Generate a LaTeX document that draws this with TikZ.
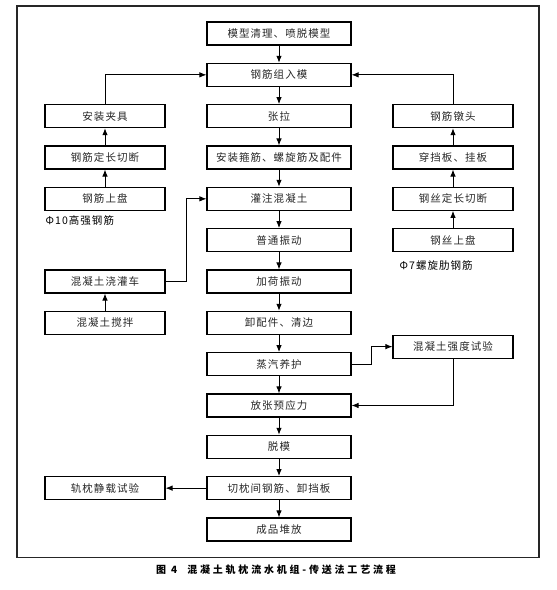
\documentclass[tikz,border=0pt]{standalone}
\usepackage{fontspec}
\setmainfont{Noto Sans CJK SC}[LetterSpace=10]
\newfontfamily\capfont{Noto Sans CJK SC}[LetterSpace=28]
\usetikzlibrary{shapes,arrows,arrows.meta,calc}
\tikzstyle{line} = [draw, -{Latex[length=7pt,width=5.5pt]}, line width=0.9pt]
\tikzstyle{block} = [draw, rectangle, line width=1.1pt, text centered, minimum height=23pt, minimum width=144pt, inner sep=0pt, text=black!85, font=\fontsize{10.5}{12}\selectfont]
\tikzstyle{side} = [block, minimum width=120pt]
\tikzstyle{note} = [anchor=west, inner sep=0pt, font=\fontsize{10.5}{12}\selectfont]
\tikzstyle{capnode} = [inner sep=0pt, font=\capfont\bfseries\fontsize{10}{12}\selectfont]

\begin{document}
\begin{tikzpicture}[node distance=41.33pt, auto]
        \useasboundingbox (0,0) rectangle (557pt,-590pt);
        \draw[line width=1.3pt, black!85] (17pt,-6pt) rectangle (539pt,-557.5pt);
        % main line
        \node[block] (clean) at (279pt,-33.5pt) {模型清理、喷脱模型};
        \node[block, below of=clean] (insert) {钢筋组入模};
        \node[block, below of=insert] (tension) {张拉};
        \node[block, below of=tension] (fit) {安装箍筋、螺旋筋及配件};
        \node[block, below of=fit] (pour) {灌注混凝土};
        \node[block, below of=pour] (vibrate) {普通振动};
        \node[block, below of=vibrate] (loadvib) {加荷振动};
        \node[block, below of=loadvib] (unload) {卸配件、清边};
        \node[block, below of=unload] (steam) {蒸汽养护};
        \node[block, below of=steam] (release) {放张预应力};
        \node[block, below of=release] (demould) {脱模};
        \node[block, below of=demould] (cut) {切枕间钢筋、卸挡板};
        \node[block, below of=cut] (stack) {成品堆放};
        % left side
        \node[side, left of=tension, node distance=174pt] (clamp) {安装夹具};
        \node[side, left of=fit, node distance=174pt] (lcut) {钢筋定长切断};
        \node[side, left of=pour, node distance=174pt] (lcoil) {钢筋上盘};
        \node[side, left of=loadvib, node distance=174pt] (truck) {混凝土浇灌车};
        \node[side, left of=unload, node distance=174pt] (mix) {混凝土搅拌};
        \node[side, left of=cut, node distance=174pt] (loadtest) {轨枕静载试验};
        % right side
        \node[side, right of=tension, node distance=174pt] (upset) {钢筋镦头};
        \node[side, right of=fit, node distance=174pt] (plate) {穿挡板、挂板};
        \node[side, right of=pour, node distance=174pt] (wcut) {钢丝定长切断};
        \node[side, right of=vibrate, node distance=174pt] (wcoil) {钢丝上盘};
        \node[side, right of=steam, node distance=174pt, yshift=17.5pt] (strength) {混凝土强度试验};
        \node[note] (rebar) at ($(lcoil.south west)+(1pt,-10pt)$) {Φ10高强钢筋};
        \node[note] (wire) at ($(wcoil.south west)+(7pt,-13.5pt)$) {Φ7螺旋肋钢筋};
        \node[capnode] (caption) at (276pt,-570pt) {图 4\quad 混凝土轨枕流水机组-传送法工艺流程};
        % connectors
        \path[line] (clean) -- (insert);
        \path[line] (insert) -- (tension);
        \path[line] (tension) -- (fit);
        \path[line] (fit) -- (pour);
        \path[line] (pour) -- (vibrate);
        \path[line] (vibrate) -- (loadvib);
        \path[line] (loadvib) -- (unload);
        \path[line] (unload) -- (steam);
        \path[line] (steam) -- (release);
        \path[line] (release) -- (demould);
        \path[line] (demould) -- (cut);
        \path[line] (cut) -- (stack);
        \path[line] (cut) -- (loadtest);
        \path[line] (lcoil) -- (lcut);
        \path[line] (lcut) -- (clamp);
        \path[line] (clamp) |- (insert);
        \path[line] (wcoil) -- (wcut);
        \path[line] (wcut) -- (plate);
        \path[line] (plate) -- (upset);
        \path[line] (upset) |- (insert);
        \path[line] (mix) -- (truck);
        \path[line] (truck.east) -- ++(21pt,0) |- (pour);
        \path[line] (steam.east) -- ++(20pt,0) |- (strength);
        \path[line] (strength) |- (release);
    \end{tikzpicture}
\end{document}
